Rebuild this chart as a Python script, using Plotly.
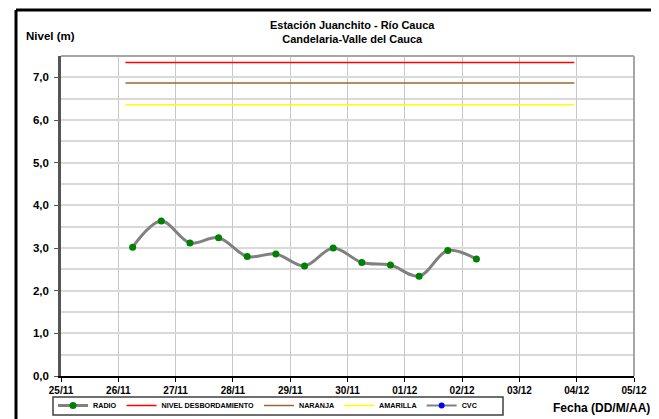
import plotly.graph_objects as go

# --- data ---
radio_times = [
    "2011-11-26 06:00", "2011-11-26 18:00", "2011-11-27 06:00", "2011-11-27 18:00",
    "2011-11-28 06:00", "2011-11-28 18:00", "2011-11-29 06:00", "2011-11-29 18:00",
    "2011-11-30 06:00", "2011-11-30 18:00", "2011-12-01 06:00", "2011-12-01 18:00",
    "2011-12-02 06:00",
]
radio_levels = [3.02, 3.63, 3.12, 3.24, 2.80, 2.86, 2.58, 3.00, 2.66, 2.60, 2.34, 2.94, 2.74]

threshold_times = ["2011-11-26 03:00", "2011-12-03 23:00"]
nivel_desbordamiento = [7.35, 7.35]
naranja = [6.87, 6.87]
amarilla = [6.36, 6.36]

cvc_times = [None]
cvc_levels = [None]

x_range = ["2011-11-25", "2011-12-05"]
y_tickvals = [0, 1, 2, 3, 4, 5, 6, 7]
y_ticktext = ["0,0", "1,0", "2,0", "3,0", "4,0", "5,0", "6,0", "7,0"]

FONT = "Liberation Sans, Arial, sans-serif"

# page body has an 8px margin; figure laid out in its own pixel space
W, H = 651, 411
ML, MR, MT, MB = 53, 25, 48, 43
PW, PH = W - ML - MR, H - MT - MB


def px(x):
    return (x - ML) / PW


def py(y):
    return (H - MB - y) / PH


fig = go.Figure()
fig.add_trace(go.Scatter(
    x=radio_times, y=radio_levels, name="RADIO", mode="lines+markers",
    line=dict(color="#808080", width=3, shape="spline", smoothing=1.0),
    marker=dict(color="#008000", size=7),
))
fig.add_trace(go.Scatter(x=threshold_times, y=nivel_desbordamiento, name="NIVEL DESBORDAMIENTO",
                         mode="lines", line=dict(color="#ff0000", width=1.5)))
fig.add_trace(go.Scatter(x=threshold_times, y=naranja, name="NARANJA",
                         mode="lines", line=dict(color="#a0662d", width=1.5)))
fig.add_trace(go.Scatter(x=threshold_times, y=amarilla, name="AMARILLA",
                         mode="lines", line=dict(color="#ffff00", width=1.5)))
fig.add_trace(go.Scatter(x=cvc_times, y=cvc_levels, name="CVC", mode="lines+markers",
                         line=dict(color="#808080", width=2),
                         marker=dict(color="#0000ff", size=6)))

fig.update_layout(
    width=W, height=H,
    margin=dict(l=ML, r=MR, t=MT, b=MB, autoexpand=False),
    paper_bgcolor="white", plot_bgcolor="white",
    font=dict(family=FONT, color="black"),
    showlegend=True,
    legend=dict(
        orientation="h", x=px(45), y=py(383), xanchor="left", yanchor="top",
        font=dict(size=7.2, family=FONT, weight="bold"),
        bgcolor="rgba(0,0,0,0)", borderwidth=0,
        itemwidth=30, tracegroupgap=0,
    ),
    xaxis=dict(
        type="date", range=x_range, dtick=86400000, tick0="2011-11-25",
        tickformat="%d/%m", showgrid=True, gridcolor="#c8c8c8", gridwidth=1,
        showline=True, linecolor="black", linewidth=2,
        ticks="outside", ticklen=4, tickcolor="black",
        tickfont=dict(size=10, family=FONT, weight="bold"),
        zeroline=False, fixedrange=True,
    ),
    yaxis=dict(
        range=[0, 7.5], tickvals=y_tickvals, ticktext=y_ticktext,
        showgrid=True, gridcolor="#d9d9d9", gridwidth=1.5,
        minor=dict(dtick=0.5, showgrid=True, gridcolor="#d9d9d9", gridwidth=1.5,
                   ticks="", tick0=0),
        showline=True, linecolor="#555555", linewidth=2.5,
        ticks="outside", ticklen=4, tickcolor="#555555",
        tickfont=dict(size=11.5, family=FONT, weight="bold"),
        ticklabelstandoff=3,
        zeroline=False, fixedrange=True,
    ),
    annotations=[
        dict(text="<b>Estación Juanchito - Río Cauca<br>Candelaria-Valle del Cauca</b>",
             xref="paper", yref="paper", x=px(344), y=py(24), xanchor="center", yanchor="middle",
             showarrow=False, font=dict(size=11, family=FONT), align="center"),
        dict(text="<b>Nivel (m)</b>", xref="paper", yref="paper", x=px(16), y=py(28),
             xanchor="left", yanchor="middle", showarrow=False,
             font=dict(size=11.5, family=FONT)),
        dict(text="<b>Fecha (DD/M/AA)</b>", xref="paper", yref="paper", x=px(644), y=py(400),
             xanchor="right", yanchor="middle", showarrow=False,
             font=dict(size=12, family=FONT)),
    ],
    shapes=[
        # plot area top/right frame
        dict(type="line", xref="paper", yref="paper", x0=0, x1=1, y0=1, y1=1,
             line=dict(color="#a6a6a6", width=2)),
        dict(type="line", xref="paper", yref="paper", x0=1, x1=1, y0=0, y1=1,
             line=dict(color="#a6a6a6", width=2)),
        # legend box
        dict(type="rect", xref="paper", yref="paper", x0=px(45), x1=px(495), y0=py(389), y1=py(407),
             line=dict(color="#404040", width=1.5), fillcolor="rgba(0,0,0,0)"),
        # outer black border
        dict(type="line", xref="paper", yref="paper", x0=px(8), x1=px(647), y0=py(2), y1=py(2),
             line=dict(color="black", width=3)),
        dict(type="line", xref="paper", yref="paper", x0=px(8), x1=px(8), y0=py(2), y1=py(420),
             line=dict(color="black", width=3)),
        dict(type="line", xref="paper", yref="paper", x0=px(647), x1=px(647), y0=py(2), y1=py(420),
             line=dict(color="black", width=3)),
    ],
)

fig.write_html("out.html")
